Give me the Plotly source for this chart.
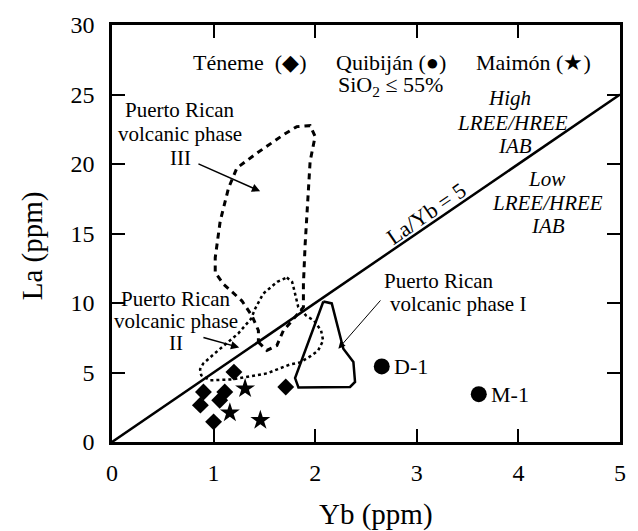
import plotly.graph_objects as go

# ---- data ----
teneme_yb = [1.20, 0.90, 0.87, 1.11, 1.06, 1.00, 1.71]
teneme_la = [5.03, 3.60, 2.65, 3.60, 3.00, 1.45, 3.96]
maimon_yb = [1.31, 1.16, 1.46]
maimon_la = [3.84, 2.10, 1.57]
quibijan_yb = [2.655, 3.61]
quibijan_la = [5.44, 3.44]
quibijan_names = ["D-1", "M-1"]

ref_line_yb = [0, 5]
ref_ratio = 5

phase1_yb = [2.08, 2.163, 2.277, 2.376, 2.392, 2.343, 1.835, 1.802, 2.08]
phase1_la = [10.11, 9.97, 6.71, 5.75, 4.32, 3.96, 3.92, 4.60, 10.11]

phase2_yb = [1.721, 1.773, 1.802, 1.832, 1.910, 1.989, 2.058, 2.078, 2.029, 1.950, 1.852, 1.753,
             1.527, 1.193, 0.967, 0.878, 0.867, 0.898, 1.045, 1.242, 1.370, 1.409, 1.488, 1.626, 1.721]
phase2_la = [11.83, 11.52, 10.67, 9.74, 9.09, 8.73, 8.02, 7.30, 6.58, 6.16, 5.73, 5.58,
             4.94, 4.51, 4.44, 4.80, 5.23, 5.65, 6.59, 7.80, 8.88, 9.59, 10.67, 11.52, 11.83]

phase3_yb = [1.441, 1.524, 1.622, 1.687, 1.786, 1.884, 1.884, 1.901, 1.950, 1.999, 1.950, 1.819,
             1.687, 1.426, 1.229, 1.147, 1.065, 1.016, 1.016, 1.097, 1.278, 1.377, 1.441, 1.441]
phase3_la = [7.18, 6.59, 6.94, 8.02, 8.85, 9.69, 11.36, 14.22, 20.19, 21.98, 22.76, 22.69,
             22.10, 20.78, 19.71, 18.27, 15.89, 13.26, 12.19, 11.36, 10.16, 9.09, 8.02, 7.18]

x_ticks = [0, 1, 2, 3, 4, 5]
y_ticks = [0, 5, 10, 15, 20, 25, 30]
x_title = "Yb (ppm)"
y_title = "La (ppm)"

FONT = "Liberation Serif, Times New Roman, serif"

fig = go.Figure()

fig.add_trace(go.Scatter(x=phase3_yb, y=phase3_la, mode="lines",
                         line=dict(color="black", width=3, dash="6px,5px"), hoverinfo="skip"))
fig.add_trace(go.Scatter(x=phase2_yb, y=phase2_la, mode="lines",
                         line=dict(color="black", width=2.5, dash="dot"), hoverinfo="skip"))
fig.add_trace(go.Scatter(x=phase1_yb, y=phase1_la, mode="lines",
                         line=dict(color="black", width=2.5), hoverinfo="skip"))
fig.add_trace(go.Scatter(x=ref_line_yb, y=[v * ref_ratio for v in ref_line_yb], mode="lines",
                         line=dict(color="black", width=2.5), hoverinfo="skip"))

fig.add_trace(go.Scatter(x=teneme_yb, y=teneme_la, mode="markers",
                         marker=dict(symbol="diamond", size=13, color="black")))
fig.add_trace(go.Scatter(x=maimon_yb, y=maimon_la, mode="markers",
                         marker=dict(symbol="star", size=15, color="black")))
fig.add_trace(go.Scatter(x=quibijan_yb, y=quibijan_la, mode="markers",
                         marker=dict(symbol="circle", size=16, color="black")))

ann = []
def txt(x, y, t, size=21, italic=False, xanchor="center", angle=0):
    ann.append(dict(x=x, y=y, xref="x", yref="y", text=t, showarrow=False,
                    xanchor=xanchor, yanchor="middle", textangle=angle,
                    font=dict(family=FONT, size=size, color="black",
                              style="italic" if italic else "normal")))

def arrow(x0, y0, x1, y1, w=1.5):
    ann.append(dict(x=x1, y=y1, ax=x0, ay=y0, xref="x", yref="y", axref="x", ayref="y",
                    text="", showarrow=True, arrowhead=2, arrowsize=1.4 if w < 1.3 else 1.1,
                    arrowwidth=w, arrowcolor="black", standoff=0))

# header
txt(1.358, 27.27, "Téneme  (◆)", size=22)
txt(2.746, 27.27, "Quibiján (●)", size=22)
txt(4.153, 27.27, "Maimón (★)", size=22)
txt(2.746, 25.63, "SiO<sub>2</sub> ≤ 55%", size=22)

# phase III
txt(0.672, 23.91, "Puerto Rican")
txt(0.672, 22.19, "volcanic phase")
txt(0.672, 20.40, "III")
arrow(0.836, 20.06, 1.458, 18.04)

# phase II
txt(0.632, 10.31, "Puerto Rican")
txt(0.632, 8.73, "volcanic phase")
txt(0.632, 7.09, "II")
arrow(0.885, 7.55, 1.252, 6.80)

# phase I
txt(2.655, 11.55, "Puerto Rican", xanchor="left")
txt(2.718, 9.95, "volcanic phase I", xanchor="left")
arrow(2.655, 10.29, 2.228, 6.71, w=1)

# fields
txt(3.917, 24.72, "High", italic=True)
txt(3.94, 22.93, "LREE/HREE", italic=True)
txt(3.97, 21.26, "IAB", italic=True)
txt(4.277, 18.90, "Low", italic=True)
txt(4.29, 17.20, "LREE/HREE", italic=True)
txt(4.29, 15.53, "IAB", italic=True)

txt(3.095, 16.43, "La/Yb = 5", size=22, angle=-34.5)

for xv, yv, nm in zip(quibijan_yb, quibijan_la, quibijan_names):
    txt(xv + 0.105, yv, nm, size=22, xanchor="left")

# axis titles
ann.append(dict(x=0.519, y=-0.174, xref="paper", yref="paper", text=x_title, showarrow=False,
                xanchor="center", yanchor="middle", font=dict(family=FONT, size=29, color="black")))
ann.append(dict(x=-0.157, y=0.47, xref="paper", yref="paper", text=y_title, showarrow=False,
                textangle=-90, xanchor="center", yanchor="middle",
                font=dict(family=FONT, size=29, color="black")))

axis_common = dict(showgrid=False, zeroline=False, showline=True, linecolor="black", linewidth=2.5,
                   mirror="ticks", ticks="inside", ticklen=13, tickwidth=2, tickcolor="black",
                   tickfont=dict(family=FONT, size=24, color="black"))

fig.update_layout(
    width=638, height=531,
    margin=dict(l=112, r=18, t=23, b=89),
    paper_bgcolor="white", plot_bgcolor="white",
    showlegend=False,
    annotations=ann,
    xaxis=dict(range=[0, 5], tickvals=x_ticks, ticklabelstandoff=7, **axis_common),
    yaxis=dict(range=[0, 30], tickvals=y_ticks, ticklabelstandoff=10, **axis_common),
)

fig.write_html("out.html", config={"displayModeBar": False},
               post_script="document.body.style.margin='0';")
